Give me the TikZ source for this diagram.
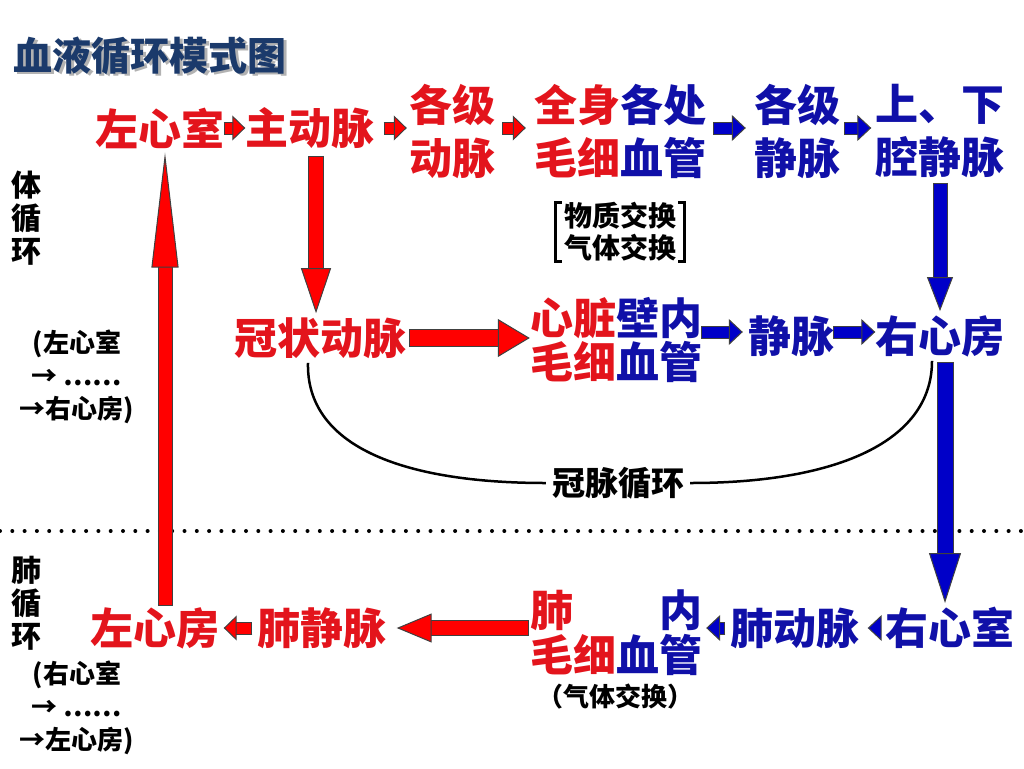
\documentclass[tikz,border=0pt]{standalone}
\usepackage{fontspec}
\setmainfont{Noto Sans CJK SC}
\usetikzlibrary{arrows.meta}

\definecolor{xred}{HTML}{E3141C}
\definecolor{xblue}{HTML}{1010A8}
\definecolor{ared}{HTML}{FF0000}
\definecolor{ablue}{HTML}{0000C8}
\definecolor{ttl}{HTML}{1B3A6B}

\tikzset{
  lbl/.style={inner sep=0pt, align=center, font=\fontsize{43}{53}\selectfont\bfseries},
  note/.style={inner sep=0pt, align=center, font=\fontsize{26}{33}\selectfont\bfseries},
  blk/.style n args={4}{
    preaction={draw=black!75, line width=#2+2pt, arrows=-, shorten >=#4-3pt, shorten <=-1pt},
    draw=#1, line width=#2,
    -{Triangle[length=#4, width=#3, line width=1pt, fill=#1, color=black!75]}},
  rsm/.style={blk={ared}{11pt}{25pt}{13pt}},
  bsm/.style={blk={ablue}{11pt}{26pt}{14pt}},
}

\begin{document}
\begin{tikzpicture}[x=1pt, y=-1pt]
    \useasboundingbox (0,0) rectangle (1024,768);

    % title (with its grey shadow)
    \node[text=ttl, font=\fontsize{39}{40}\selectfont\bfseries] (title) at (150,57)
        {\makebox[0pt][l]{\hspace{2.5pt}\raisebox{-2.5pt}{\color{black!30}血液循环模式图}}血液循环模式图};

    % systemic circulation
    \node[lbl, text=xred] (lxs) at (160,128) {左心室};
    \node[lbl, text=xred] (zdm) at (310,128) {主动脉};
    \node[lbl, text=xred] (gjdm) at (452,131) {各级\\动脉};
    \node[lbl, text=xblue] (qsmx) at (620,131) {{\color{xred}全身}各处\\{\color{xred}毛细}血管};
    \node[lbl, text=xblue] (gjjm) at (797,131) {各级\\静脉};
    \node[lbl, text=xblue] (qjm) at (940,131) {上、下\\腔静脉};
    \node[note, font=\fontsize{28}{32}\selectfont\bfseries, inner xsep=8pt] (wz) at (620,232) {物质交换\\气体交换};

    \node[lbl, text=xred] (gzdm) at (320,338) {冠状动脉};
    \node[lbl, text=xblue, font=\fontsize{43}{44}\selectfont\bfseries] (xzmx) at (616,340) {{\color{xred}心脏}壁内\\{\color{xred}毛细}血管};
    \node[lbl, text=xblue] (jm) at (791,336) {静脉};
    \node[lbl, text=xblue] (yxf) at (940,336) {右心房};
    \node[note, font=\fontsize{33}{33}\selectfont\bfseries] (gmxh) at (618,483) {冠脉循环};

    % pulmonary circulation
    \node[lbl, text=xred] (lxf) at (155,628) {左心房};
    \node[lbl, text=xred] (fjm) at (322,628) {肺静脉};
    \node[lbl, text=xblue, font=\fontsize{43}{45}\selectfont\bfseries] (fmx) at (616,633) {{\color{xred}肺}\hspace{2em}内\\{\color{xred}毛细}血管};
    \node[note] (qtjh) at (615,697) {（气体交换）};
    \node[lbl, text=xblue] (fdm) at (795,628) {肺动脉};
    \node[lbl, text=xblue] (yxs) at (950,628) {右心室};

    % side labels
    \node[note, font=\fontsize{30}{33}\selectfont\bfseries] (tx) at (27,218) {体\\循\\环};
    \node[note] (txn) at (77,377) {(左心室\\→ ……\\→右心房)};
    \node[note, font=\fontsize{30}{33}\selectfont\bfseries] (fx) at (27,603) {肺\\循\\环};
    \node[note] (fxn) at (77,708) {(右心室\\→ ……\\→左心房)};

    \draw[line width=4pt, line cap=round, dash pattern=on 0pt off 12.3pt] (0,531) -- (1024,531);

    % brackets
    \draw[line width=3pt] ([xshift=6pt]wz.north west) -- (wz.north west) -- (wz.south west) -- ++(6pt,0);
    \draw[line width=3pt] ([xshift=-6pt]wz.north east) -- (wz.north east) -- (wz.south east) -- ++(-6pt,0);

    % top row
    \draw[rsm] (lxs.east) -- (lxs.east -| zdm.west);
    \draw[rsm] ([xshift=10pt]zdm.east) -- ([xshift=-2pt]zdm.east -| gjdm.west);
    \draw[rsm] ([xshift=8pt]gjdm.east |- zdm) -- ([xshift=-8pt]zdm -| qsmx.west);
    \draw[bsm] ([xshift=8pt]qsmx.east |- zdm) -- ([xshift=-8pt]zdm -| gjjm.west);
    \draw[bsm] ([xshift=5pt]gjjm.east |- zdm) -- ([xshift=-4pt]zdm -| qjm.west);

    % down to the heart wall
    \draw[blk={ared}{14pt}{30pt}{45pt}] ([xshift=6pt,yshift=-8pt]zdm.south) -- ([xshift=6pt,yshift=4pt]zdm.south |- gzdm.north);
    \draw[blk={ablue}{13pt}{26pt}{34pt}] ([yshift=-6pt]qjm.south) -- ([yshift=4pt]qjm.south |- yxf.north);

    % middle row
    \draw[blk={ared}{16pt}{38pt}{32pt}] ([xshift=4pt]gzdm.east) -- (gzdm.east -| xzmx.west);
    \draw[bsm] ([yshift=4pt]xzmx.east |- jm) -- ([xshift=-5pt,yshift=4pt]jm.west);
    \draw[bsm] ([yshift=4pt]jm.east) -- ([yshift=4pt]jm.east -| yxf.west);

    % coronary loop
    \draw[line width=2.5pt] ([xshift=-12pt,yshift=-4pt]gzdm.south) .. controls (306,445) and (400,483) .. ([xshift=-6pt]gmxh.west);
    \draw[line width=2.5pt] ([xshift=6pt]gmxh.east) .. controls (840,483) and (932,440) .. ([xshift=-8pt,yshift=-4pt]yxf.south);

    % right side down
    \draw[blk={ablue}{15pt}{32pt}{50pt}] ([xshift=5pt,yshift=-6pt]yxf.south) -- ([xshift=5pt,yshift=4pt]yxf.south |- yxs.north);

    % bottom row
    \draw[bsm] ([xshift=-6pt]yxs.west) -- ([xshift=8pt]yxs.west -| fdm.east);
    \draw[bsm] ([xshift=-6pt]fdm.west) -- ([xshift=4pt]fdm.west -| fmx.east);
    \draw[blk={ared}{14pt}{29pt}{35pt}] ([xshift=-2pt]fmx.west |- fjm) -- ([xshift=10pt]fjm.east);
    \draw[rsm] ([xshift=-6pt]fjm.west) -- ([xshift=4pt]fjm.west -| lxf.east);

    % back up to the left ventricle
    \draw[blk={ared}{13pt}{27pt}{115pt}] ([xshift=10pt,yshift=2pt]lxf.north) -- ([xshift=10pt,yshift=-4pt]lxf.north |- lxs.south);
\end{tikzpicture}
\end{document}
